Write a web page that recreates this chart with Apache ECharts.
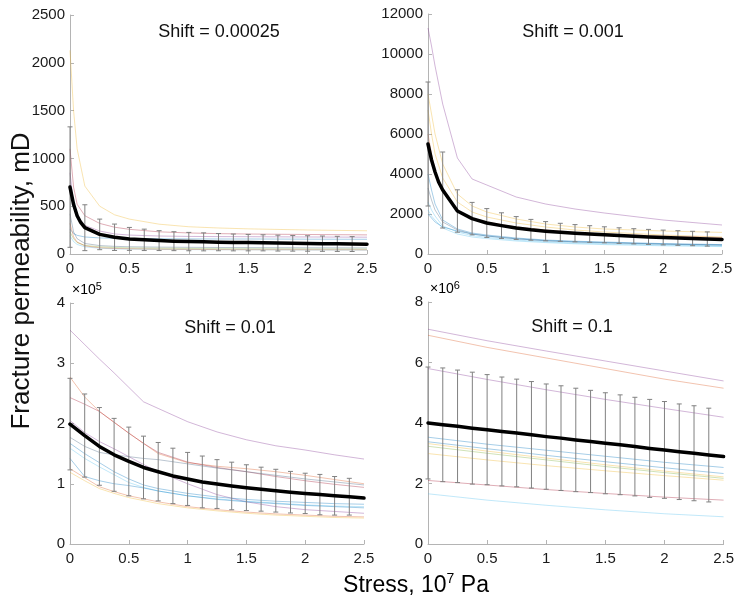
<!DOCTYPE html>
<html>
<head>
<meta charset="utf-8">
<script src="https://cdn.jsdelivr.net/npm/echarts@6/dist/echarts.min.js"></script>
<style>
  html, body { margin: 0; padding: 0; background: #fff; }
  #chart { width: 737px; height: 602px; }
</style>
</head>
<body>
<div id="chart"></div>
<script>
// stress, 10^7 Pa
const xBars = [0, 0.125, 0.25, 0.375, 0.5, 0.625, 0.75, 0.875, 1, 1.125, 1.25, 1.375, 1.5, 1.625, 1.75, 1.875, 2, 2.125, 2.25, 2.375]
const xMean12 = [0, 0.03, 0.06, 0.09, 0.125, 0.25, 0.375, 0.5, 0.625, 0.75, 0.875, 1, 1.125, 1.25, 1.375, 1.5, 1.625, 1.75, 1.875, 2, 2.125, 2.25, 2.375, 2.5]
const xMean34 = [0, 0.125, 0.25, 0.375, 0.5, 0.625, 0.75, 0.875, 1, 1.125, 1.25, 1.375, 1.5, 1.625, 1.75, 1.875, 2, 2.125, 2.25, 2.375, 2.5]
const xThin12 = [0, 0.03, 0.06, 0.125, 0.25, 0.375, 0.5, 0.75, 1, 1.25, 1.5, 2, 2.5]
const xThin3 = [0, 0.125, 0.25, 0.375, 0.5, 0.625, 0.75, 1, 1.25, 1.5, 1.75, 2, 2.25, 2.5]
const xThin4 = [0, 0.5, 1, 1.5, 2, 2.5]

const titles = ['Shift = 0.00025', 'Shift = 0.001', 'Shift = 0.01', 'Shift = 0.1']

// Shift = 0.00025 (mD)
const mean1 = [700, 520, 400, 330, 275, 205, 175, 158, 148, 140, 134, 130, 127, 124, 121, 119, 117, 114, 112, 110, 108, 106, 104, 102]
const err1 = [630, 240, 160, 138, 120, 112, 104, 99, 96, 94, 90, 88, 86, 84, 83, 82, 81, 80, 79, 78]
const thin1 = [
  [2130, 1500, 1100, 710, 500, 410, 365, 312, 285, 272, 263, 251, 243],
  [1100, 700, 520, 400, 320, 280, 258, 232, 220, 213, 209, 204, 200],
  [850, 520, 400, 300, 240, 210, 198, 188, 184, 182, 181, 178, 176],
  [260, 215, 195, 178, 168, 164, 162, 160, 158, 157, 157, 155, 154],
  [420, 230, 160, 110, 88, 80, 76, 72, 70, 68, 67, 65, 64],
  [230, 160, 120, 90, 75, 68, 64, 60, 58, 56, 55, 53, 52],
  [190, 130, 100, 75, 60, 54, 51, 48, 46, 45, 44, 42, 41],
  [320, 180, 125, 85, 65, 58, 55, 50, 48, 46, 45, 44, 43],
]

// Shift = 0.001 (mD)
const mean2 = [5500, 4700, 4100, 3600, 3200, 2150, 1770, 1550, 1420, 1300, 1210, 1140, 1085, 1040, 1000, 960, 920, 885, 855, 825, 800, 775, 750, 730]
const err2 = [3100, 1900, 1060, 810, 720, 640, 570, 520, 480, 450, 430, 415, 400, 390, 380, 375, 370, 365, 360, 355]
const thin2 = [
  [11300, 10400, 9400, 7500, 4800, 3750, 3450, 2850, 2500, 2250, 2050, 1700, 1450],
  [8000, 7000, 6000, 4500, 3000, 2400, 2100, 1750, 1500, 1350, 1250, 1150, 1080],
  [7200, 6000, 5000, 3800, 2600, 2100, 1850, 1550, 1350, 1200, 1100, 950, 850],
  [6000, 5000, 4200, 3200, 2200, 1800, 1600, 1350, 1200, 1080, 1000, 900, 820],
  [4000, 3200, 2500, 1700, 1250, 1050, 950, 800, 700, 640, 600, 520, 470],
  [3300, 2700, 2200, 1600, 1200, 1000, 900, 760, 660, 600, 560, 490, 440],
  [2600, 2200, 1900, 1400, 1100, 920, 830, 700, 610, 550, 510, 450, 400],
  [2200, 1900, 1700, 1300, 1000, 850, 770, 650, 570, 510, 470, 410, 370],
  [2000, 1800, 1600, 1350, 1150, 1000, 900, 760, 670, 610, 570, 500, 450],
]

// Shift = 0.01 (x10^5 mD)
const mean3 = [1.99, 1.80, 1.62, 1.48, 1.37, 1.27, 1.20, 1.13, 1.08, 1.03, 0.995, 0.963, 0.935, 0.91, 0.885, 0.86, 0.84, 0.82, 0.80, 0.785, 0.763]
const err3 = [0.76, 0.69, 0.645, 0.605, 0.57, 0.52, 0.485, 0.46, 0.44, 0.43, 0.405, 0.395, 0.38, 0.365, 0.355, 0.345, 0.335, 0.335, 0.32, 0.305]
const thin3 = [
  [3.55, 3.31, 3.07, 2.84, 2.6, 2.36, 2.25, 2.03, 1.86, 1.73, 1.63, 1.56, 1.48, 1.41],
  [2.77, 2.44, 2.2, 2.02, 1.84, 1.67, 1.5, 1.35, 1.29, 1.25, 1.2, 1.14, 1.07, 1.0],
  [2.43, 2.32, 2.2, 2.02, 1.84, 1.67, 1.52, 1.36, 1.27, 1.2, 1.12, 1.05, 0.99, 0.94],
  [2.05, 1.85, 1.7, 1.58, 1.45, 1.32, 1.2, 1.0, 0.82, 0.7, 0.62, 0.57, 0.54, 0.51],
  [1.77, 1.62, 1.52, 1.48, 1.45, 1.42, 1.4, 1.33, 1.26, 1.2, 1.14, 1.08, 1.03, 0.98],
  [1.67, 1.5, 1.35, 1.2, 1.08, 0.98, 0.92, 0.84, 0.78, 0.74, 0.71, 0.69, 0.67, 0.66],
  [1.59, 1.42, 1.28, 1.15, 1.02, 0.94, 0.88, 0.8, 0.75, 0.71, 0.68, 0.65, 0.63, 0.62],
  [1.42, 1.12, 1.05, 1.0, 0.97, 0.93, 0.88, 0.8, 0.74, 0.7, 0.67, 0.64, 0.62, 0.6],
  [1.25, 1.1, 0.95, 0.87, 0.8, 0.75, 0.7, 0.62, 0.57, 0.53, 0.5, 0.48, 0.46, 0.45],
  [1.19, 1.05, 0.92, 0.84, 0.77, 0.72, 0.67, 0.6, 0.55, 0.51, 0.48, 0.46, 0.44, 0.43],
]

// Shift = 0.1 (x10^6 mD)
const mean4 = [4.0, 3.94, 3.89, 3.83, 3.78, 3.72, 3.67, 3.61, 3.55, 3.5, 3.44, 3.39, 3.33, 3.28, 3.22, 3.16, 3.11, 3.05, 3.0, 2.94, 2.89]
const err4 = [1.85, 1.88, 1.86, 1.85, 1.82, 1.8, 1.78, 1.76, 1.74, 1.73, 1.71, 1.69, 1.67, 1.65, 1.63, 1.62, 1.6, 1.58, 1.57, 1.55]
const thin4 = [
  [7.1, 6.72, 6.38, 6.05, 5.72, 5.39],
  [6.9, 6.5, 6.15, 5.8, 5.45, 5.15],
  [5.8, 5.44, 5.1, 4.78, 4.48, 4.19],
  [3.53, 3.3, 3.1, 2.9, 2.7, 2.53],
  [3.38, 3.15, 2.93, 2.72, 2.52, 2.33],
  [3.32, 3.07, 2.84, 2.62, 2.41, 2.22],
  [3.23, 3.0, 2.78, 2.56, 2.36, 2.17],
  [2.99, 2.78, 2.59, 2.42, 2.26, 2.11],
  [2.1, 1.95, 1.8, 1.67, 1.55, 1.45],
  [1.66, 1.45, 1.28, 1.13, 1.0, 0.9],
]

const yMax = [2500, 12000, 4, 8]
const yStep = [500, 2000, 1, 2]

// line colours, MATLAB-like
const c = { blue: '#0072BD', orange: '#D95319', yellow: '#EDB120', purple: '#7E2F8E', green: '#77AC30', cyan: '#4DBEEE', red: '#A2142F', slate: '#3b5b7a' }
const colors1 = [c.yellow, c.red, c.purple, c.blue, c.slate, c.green, c.cyan, c.orange]
const colors2 = [c.purple, c.yellow, c.yellow, c.orange, c.blue, c.slate, c.cyan, c.cyan, c.blue]
const colors3 = [c.purple, c.orange, c.red, c.purple, c.slate, c.blue, c.cyan, c.blue, c.orange, c.yellow]
const colors4 = [c.purple, c.orange, c.purple, c.blue, c.blue, c.yellow, c.green, c.yellow, c.red, c.cyan]

const FONT = '"Liberation Sans", Arial, sans-serif'
const AXIS_GRAY = '#b4b4b4'

const grids = [
  { left: 70, top: 15, width: 297, height: 239 },
  { left: 428, top: 14, width: 294, height: 240 },
  { left: 70, top: 303, width: 294, height: 241 },
  { left: 428, top: 302, width: 298, height: 242 },
]

function errorBarItem(params, api) {
  const x = api.value(0)
  const top = api.coord([x, api.value(2)])
  const bot = api.coord([x, api.value(1)])
  const w = 2.5
  const style = { stroke: '#808080', lineWidth: 1 }
  return {
    type: 'group',
    children: [
      { type: 'line', shape: { x1: top[0], y1: top[1], x2: bot[0], y2: bot[1] }, style },
      { type: 'line', shape: { x1: top[0] - w, y1: top[1], x2: top[0] + w, y2: top[1] }, style },
      { type: 'line', shape: { x1: bot[0] - w, y1: bot[1], x2: bot[0] + w, y2: bot[1] }, style },
    ],
  }
}

function panelSeries(gi, xMean, mean, err, xThin, thin, colors) {
  const out = thin.map((ys, i) => ({
    type: 'line',
    xAxisIndex: gi,
    yAxisIndex: gi,
    data: xThin.map((x, j) => [x, ys[j]]),
    symbol: 'none',
    lineStyle: { width: 1, color: colors[i], opacity: 0.35 },
    silent: true,
    z: 1,
  }))
  out.push({
    type: 'custom',
    xAxisIndex: gi,
    yAxisIndex: gi,
    renderItem: errorBarItem,
    encode: { x: 0, y: [1, 2] },
    data: xBars.map((x, i) => {
      const m = mean[xMean.indexOf(x)]
      return [x, m - err[i], m + err[i]]
    }),
    silent: true,
    z: 3,
  })
  out.push({
    type: 'line',
    xAxisIndex: gi,
    yAxisIndex: gi,
    data: xMean.map((x, j) => [x, mean[j]]),
    symbol: 'none',
    lineStyle: { width: 3.5, color: '#000', join: 'round', cap: 'round' },
    silent: true,
    z: 5,
  })
  return out
}

const axisLabel = { color: '#1a1a1a', fontSize: 15, fontFamily: FONT, formatter: (v) => String(v) }

const xAxes = grids.map((g, i) => ({
  type: 'value',
  gridIndex: i,
  min: 0,
  max: 2.5,
  interval: 0.5,
  axisLine: { show: true, onZero: false, lineStyle: { color: AXIS_GRAY } },
  axisTick: { show: true, inside: true, length: 4, lineStyle: { color: AXIS_GRAY } },
  axisLabel: { ...axisLabel, margin: 7 },
  splitLine: { show: false },
}))

const yAxes = grids.map((g, i) => ({
  type: 'value',
  gridIndex: i,
  min: 0,
  max: yMax[i],
  interval: yStep[i],
  axisLine: { show: true, lineStyle: { color: AXIS_GRAY } },
  axisTick: { show: true, inside: true, length: 4, lineStyle: { color: AXIS_GRAY } },
  axisLabel: { ...axisLabel, margin: 5 },
  splitLine: { show: false },
}))

const titlePos = [[219, 32], [573, 32], [230, 328], [572, 327]]

const texts = titles.map((t, i) => ({
  type: 'text',
  x: titlePos[i][0],
  y: titlePos[i][1],
  style: { text: t, font: '18px ' + FONT, fill: '#111', align: 'center', verticalAlign: 'middle' },
}))

const supRich = {
  a: { fontSize: 14, fontFamily: FONT, color: '#222' },
  s: { fontSize: 11, fontFamily: FONT, color: '#222', verticalAlign: 'top', lineHeight: 18 },
}

texts.push(
  { type: 'text', x: 72, y: 290, style: { text: '{a|×10}{s|5}', rich: supRich, align: 'left', verticalAlign: 'middle' } },
  { type: 'text', x: 430, y: 289, style: { text: '{a|×10}{s|6}', rich: supRich, align: 'left', verticalAlign: 'middle' } },
  {
    type: 'text',
    x: 22,
    y: 281,
    rotation: Math.PI / 2,
    style: { text: 'Fracture permeability, mD', font: '26px ' + FONT, fill: '#111', align: 'center', verticalAlign: 'middle' },
  },
  {
    type: 'text',
    x: 416,
    y: 586,
    style: {
      text: '{a|Stress, 10}{s|7}{a| Pa}',
      rich: {
        a: { fontSize: 23, fontFamily: FONT, color: '#111' },
        s: { fontSize: 14, fontFamily: FONT, color: '#111', verticalAlign: 'top', lineHeight: 28 },
      },
      align: 'center',
      verticalAlign: 'middle',
    },
  }
)

const chart = echarts.init(document.getElementById('chart'))
chart.setOption({
  animation: false,
  backgroundColor: '#fff',
  grid: grids,
  xAxis: xAxes,
  yAxis: yAxes,
  graphic: texts,
  series: [
    ...panelSeries(0, xMean12, mean1, err1, xThin12, thin1, colors1),
    ...panelSeries(1, xMean12, mean2, err2, xThin12, thin2, colors2),
    ...panelSeries(2, xMean34, mean3, err3, xThin3, thin3, colors3),
    ...panelSeries(3, xMean34, mean4, err4, xThin4, thin4, colors4),
  ],
})
</script>
</body>
</html>
